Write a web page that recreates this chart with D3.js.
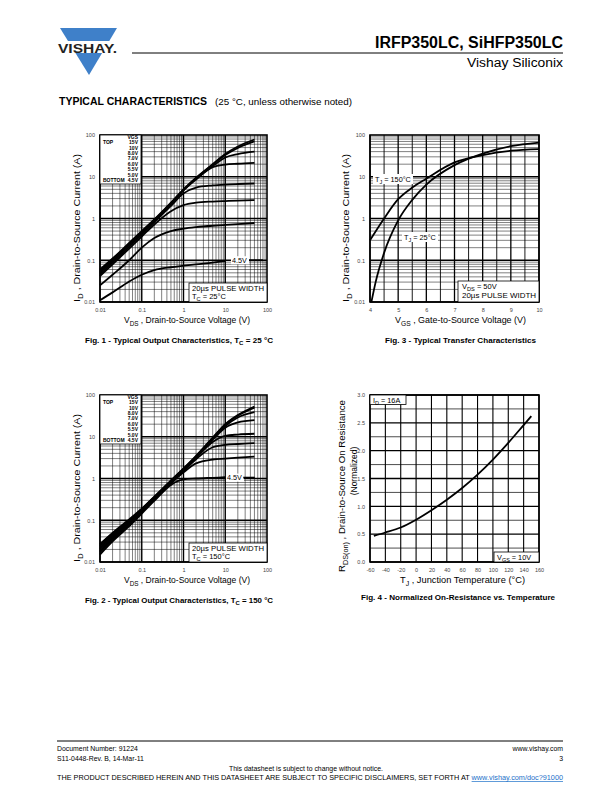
<!DOCTYPE html>
<html><head><meta charset="utf-8">
<script src="https://cdn.jsdelivr.net/npm/d3@7/dist/d3.min.js"></script>
<style>body{margin:0;background:#fff}svg{display:block}text{font-family:"Liberation Sans",Arial,Helvetica,sans-serif}</style>
</head><body><svg id="c" width="612" height="792"></svg>
<script>
// ---------------- DATA ----------------
const vgsLegend = ["15V","10V","8.0V","7.0V","6.0V","5.5V","5.0V","4.5V"];
const vdsPts = [0.01,0.02,0.05,0.1,0.2,0.5,1,2,5,10,20,50];
// Fig 1, TC = 25 C
const id25_15V  = [0.06,0.11,0.26,0.5,0.95,2.4,5.0,9.5,20,35,53,78];
const id25_10V  = [0.057,0.105,0.25,0.48,0.92,2.3,4.9,9.2,19.5,33,49,70];
const id25_8V   = [0.053,0.1,0.24,0.46,0.9,2.25,4.8,9,18,29,35,40];
const id25_7V   = [0.05,0.095,0.23,0.44,0.87,2.2,4.7,8.6,17,19.5,20.5,21.5];
const id25_6V   = [0.046,0.088,0.21,0.41,0.82,2.0,4.0,5.5,6.2,6.5,6.7,6.9];
const id25_55V  = [0.042,0.08,0.19,0.37,0.72,1.5,2.1,2.4,2.55,2.62,2.68,2.75];
const id25_5V   = [0.025,0.045,0.1,0.2,0.34,0.5,0.57,0.62,0.67,0.7,0.73,0.78];
const id25_45V  = [0.011,0.017,0.031,0.045,0.058,0.068,0.074,0.08,0.088,0.096];
// Fig 2, TC = 150 C
const id150_15V = [0.027,0.05,0.105,0.19,0.37,0.9,1.75,3.5,9.5,20,33,53];
const id150_10V = [0.026,0.048,0.1,0.185,0.36,0.88,1.7,3.4,9.2,19.5,32,50];
const id150_8V  = [0.024,0.045,0.095,0.18,0.35,0.86,1.65,3.3,9,18,29,39];
const id150_7V  = [0.022,0.042,0.09,0.17,0.34,0.84,1.6,3.2,8.5,16.5,22,25];
const id150_6V  = [0.02,0.039,0.085,0.165,0.33,0.82,1.55,3.1,7.5,10.5,11.3,11.8];
const id150_55V = [0.018,0.036,0.08,0.16,0.32,0.8,1.5,2.9,5.6,6.4,6.7,7.0];
const id150_5V  = [0.017,0.034,0.077,0.155,0.31,0.76,1.4,2.3,2.85,3.0,3.15,3.35];
const id150_45V = [0.015,0.031,0.072,0.145,0.29,0.7,0.95,1.0,1.04,1.07];
// Fig 3, transfer
const vgsT25  = [4.05,4.2,4.5,5,5.5,6,7,8,9,10];
const idT25   = [0.01,0.03,0.15,0.9,2.8,6.5,19,36,54,66];
const vgsT150 = [4,4.5,5,5.5,6,7,8,9,10];
const idT150  = [0.3,1.0,2.9,5.5,9,22,33,42,46];
// Fig 4, normalized RDS(on)
const tempJ = [-55,-40,-20,0,20,40,60,80,100,120,140,150];
const rdsN  = [0.47,0.53,0.62,0.76,0.93,1.12,1.33,1.57,1.84,2.14,2.46,2.62];
// tick labels
const logTicks = [0.01,0.1,1,10,100];
const logTickLabels = ["0.01","0.1","1","10","100"];
const vgsTicks = [4,5,6,7,8,9,10];
const tempTicks = [-60,-40,-20,0,20,40,60,80,100,120,140,160];
const rTicks = [0,0.5,1,1.5,2,2.5,3];
const rTickLabels = ["0.0","0.5","1.0","1.5","2.0","2.5","3.0"];

// ---------------- DRAWING ----------------
const svg = d3.select("#c");
svg.append("rect").attr("width",612).attr("height",792).attr("fill","#fff");
const FONT = '"Liberation Sans",Arial,sans-serif';

function txt(g, x, y, s, o={}) {
  const t = g.append("text").attr("x",x).attr("y",y).attr("font-size",o.size||7)
    .attr("font-weight",o.bold?"bold":null).attr("text-anchor",o.anchor||"start")
    .attr("fill",o.fill||"#000").text(s);
  if (o.len) t.attr("textLength",o.len).attr("lengthAdjust","spacingAndGlyphs");
  return t;
}
// text with subscript parts: parts = [[str, sub?],...]
function rich(g, x, y, parts, o={}) {
  const t = g.append("text").attr("x",x).attr("y",y).attr("font-size",o.size||7)
    .attr("text-anchor",o.anchor||"start").attr("font-weight",o.bold?"bold":null);
  if (o.rotate) t.attr("transform",`rotate(-90,${x},${y})`);
  if (o.len) t.attr("textLength",o.len).attr("lengthAdjust","spacingAndGlyphs");
  const sz = o.size||7;
  let down = false;
  parts.forEach(([s,sub])=>{
    const ts = t.append("tspan").text(s);
    if (sub && !down){ ts.attr("dy",sz*0.3).attr("font-size",sz*0.75); down=true; }
    else if (!sub && down){ ts.attr("dy",-sz*0.3); down=false; }
  });
  return t;
}

function logGridVals(lo, hi){
  const out=[];
  for(let e=lo;e<hi;e++) for(let m=1;m<=9;m++) out.push([m*Math.pow(10,e), m===1]);
  return out;
}

function frame(x, y, xGrid, yGrid, xTicks, xFmt, yTicks, yFmt){
  const g = svg.append("g");
  const [xl,xr] = x.range(), [yb,yt] = y.range();
  const gg = g.append("g").attr("stroke","#000");
  xGrid.forEach(([v,w])=> gg.append("line").attr("x1",x(v)).attr("x2",x(v)).attr("y1",yt).attr("y2",yb).attr("stroke-width",w));
  yGrid.forEach(([v,w])=> gg.append("line").attr("y1",y(v)).attr("y2",y(v)).attr("x1",xl).attr("x2",xr).attr("stroke-width",w));
  g.append("rect").attr("x",xl).attr("y",yt).attr("width",xr-xl).attr("height",yb-yt)
    .attr("fill","none").attr("stroke","#000").attr("stroke-width",1.6);
  const ax = g.append("g").attr("transform",`translate(0,${yb+6})`)
    .call(d3.axisBottom(x).tickValues(xTicks).tickFormat(xFmt).tickSize(0).tickPadding(0));
  const ay = g.append("g").attr("transform",`translate(${xl-5},0)`)
    .call(d3.axisLeft(y).tickValues(yTicks).tickFormat(yFmt).tickSize(0).tickPadding(0));
  [ax,ay].forEach(a=>{ a.select(".domain").remove(); a.attr("font-family",FONT).attr("font-size",5.5);
    a.selectAll("text").attr("fill","#444"); });
  return g;
}
function curve(g, x, y, xs, ys, w=1.8){
  const pts = ys.map((v,i)=>[xs[i],v]);
  g.append("path").attr("d", d3.line().x(d=>x(d[0])).y(d=>y(d[1])).curve(d3.curveMonotoneX)(pts))
    .attr("fill","none").attr("stroke","#000").attr("stroke-width",w).attr("stroke-linejoin","round");
}
function whiteBox(g,x1,y1,x2,y2,stroke=true){
  g.append("rect").attr("x",x1).attr("y",y1).attr("width",x2-x1).attr("height",y2-y1)
    .attr("fill","#fff").attr("stroke",stroke?"#000":"none").attr("stroke-width",0.8);
}

// -------- Header --------
const hdr = svg.append("g");
hdr.append("path").attr("d","M60,28 L117,28 L89,75 Z").attr("fill","#3f80c9");
hdr.append("rect").attr("x",55).attr("y",41).attr("width",66).attr("height",12).attr("fill","#fff");
txt(hdr, 58, 52.5, "VISHAY.", {size:13, bold:true, len:59, fill:"#222"});
txt(hdr, 563, 48, "IRFP350LC, SiHFP350LC", {size:16, bold:true, anchor:"end", len:188});
hdr.append("line").attr("x1",132).attr("x2",563).attr("y1",53).attr("y2",53).attr("stroke","#000").attr("stroke-width",1);
txt(hdr, 563, 67, "Vishay Siliconix", {size:12.5, anchor:"end", len:96});
txt(hdr, 59, 105, "TYPICAL CHARACTERISTICS", {size:10, bold:true, len:148});
txt(hdr, 215, 105, "(25 °C, unless otherwise noted)", {size:9.3, len:137});

// -------- Output characteristic panels --------
function outputPanel(top, data, cap, tcText, labY, labX, lineX){
  const x = d3.scaleLog().domain([0.01,100]).range([100,267]);
  const y = d3.scaleLog().domain([0.01,100]).range([top+167,top]);
  const gv = logGridVals(-2,2).map(([v,maj])=>[v, maj?1.4:0.5]);
  const fmt = d=>logTickLabels[logTicks.indexOf(d)];
  const g = frame(x,y,gv,gv,logTicks,fmt,logTicks,fmt);
  data.forEach((ys,i)=> curve(g,x,y,vdsPts,ys));
  // legend
  whiteBox(g,100,top,141,top+49);
  txt(g,103,top+9,"TOP",{size:5,bold:true});
  txt(g,103,top+46.5,"BOTTOM",{size:5,bold:true});
  txt(g,138,top+3.8,"VGS",{size:5,bold:true,anchor:"end"});
  vgsLegend.forEach((s,i)=> txt(g,138,top+9.2+i*5.4,s,{size:5,bold:true,anchor:"end"}));
  // 4.5V label
  g.append("rect").attr("x",x(labX)-1).attr("y",y(labY)-4).attr("width",18).attr("height",8).attr("fill","#fff");
  txt(g,x(labX),y(labY)+2.6,"4.5V",{size:7.2});
  g.append("line").attr("x1",x(lineX[0])).attr("x2",x(lineX[1])).attr("y1",y(labY)).attr("y2",y(labY)).attr("stroke","#000").attr("stroke-width",1.8);
  // pulse box
  whiteBox(g,189,top+148,267,top+167);
  txt(g,192,top+155.5,"20µs PULSE WIDTH",{size:7.5,len:72});
  rich(g,192,top+163.5,[["T"],["C",1],[" = "+tcText]],{size:7.5});
  // axis titles
  rich(svg,124,top+188,[["V"],["DS",1],[" , Drain-to-Source Voltage (V)"]],{size:8.5,len:126});
  rich(svg,80,top+167,[["I"],["D",1],[" , Drain-to-Source Current (A)"]],{size:8.5,rotate:true,len:148});
  // caption
  rich(svg,85,top+208,cap,{size:7.8,bold:true,len:188});
}
outputPanel(135,[id25_15V,id25_10V,id25_8V,id25_7V,id25_6V,id25_55V,id25_5V,id25_45V],
  [["Fig. 1 - Typical Output Characteristics, T"],["C",1],[" = 25 °C"]],"25°C",0.1,14.5,[37,80]);
outputPanel(395,[id150_15V,id150_10V,id150_8V,id150_7V,id150_6V,id150_55V,id150_5V,id150_45V],
  [["Fig. 2 - Typical Output Characteristics, T"],["C",1],[" = 150 °C"]],"150°C",1.05,11,[27,51]);

// -------- Fig 3: transfer --------
{
  const x = d3.scaleLinear().domain([4,10]).range([370,539]);
  const y = d3.scaleLog().domain([0.01,100]).range([302,135]);
  const xg = d3.range(4,10.01,0.5).map(v=>[v, Number.isInteger(v)?1.3:0.9]);
  const yg = logGridVals(-2,2).map(([v,maj])=>[v, maj?1.4:0.5]);
  const g = frame(x,y,xg,yg,vgsTicks,d=>String(d),logTicks,d=>logTickLabels[logTicks.indexOf(d)]);
  curve(g,x,y,vgsT150,idT150);
  curve(g,x,y,vgsT25,idT25);
  whiteBox(g,373,174,413,184,false);
  rich(g,375,181.5,[["T"],["J",1],[" = 150°C"]],{size:7.3});
  whiteBox(g,402,232,438,242,false);
  rich(g,404,239.5,[["T"],["J",1],[" = 25°C"]],{size:7.3});
  whiteBox(g,458,281,539,302);
  rich(g,462,289,[["V"],["DS",1],[" = 50V"]],{size:7.5});
  txt(g,462,298,"20µs PULSE WIDTH",{size:7.5,len:74});
  rich(svg,395,323,[["V"],["GS",1],[" , Gate-to-Source Voltage (V)"]],{size:8.5,len:131});
  rich(svg,349,302,[["I"],["D",1],[" , Drain-to-Source Current (A)"]],{size:8.5,rotate:true,len:148});
  txt(svg,385,343,"Fig. 3 - Typical Transfer Characteristics",{size:7.8,bold:true,len:151});
}

// -------- Fig 4: RDS(on) vs temperature --------
{
  const x = d3.scaleLinear().domain([-60,160]).range([370,539]);
  const y = d3.scaleLinear().domain([0,3]).range([562,395]);
  const xg = d3.range(-60,161,20).map(v=>[v,1.1]);
  const yg = d3.range(0,3.01,0.25).map(v=>[v, (v*2)%1===0?1.4:0.7]);
  const g = frame(x,y,xg,yg,tempTicks,d=>String(d),rTicks,d=>rTickLabels[rTicks.indexOf(d)]);
  curve(g,x,y,tempJ,rdsN);
  whiteBox(g,370,395,406,404.5);
  rich(g,373,402.5,[["I"],["D",1],[" = 16A"]],{size:7.3});
  whiteBox(g,494,552,539,562);
  rich(g,497,559.5,[["V"],["GS",1],[" = 10V"]],{size:7.3});
  rich(svg,400,583,[["T"],["J",1],[" , Junction Temperature (°C)"]],{size:8.5,len:125});
  rich(svg,345,572,[["R"],["DS(on)",1],[" , Drain-to-Source On Resistance"]],{size:8.5,rotate:true,len:172});
  txt(svg,357,471,"(Normalized)",{size:8.5,anchor:"middle"}).attr("transform","rotate(-90,357,471)");
  txt(svg,361,600,"Fig. 4 - Normalized On-Resistance vs. Temperature",{size:7.8,bold:true,len:194});
}

// -------- Footer --------
const ft = svg.append("g");
ft.append("line").attr("x1",57).attr("x2",563).attr("y1",741).attr("y2",741).attr("stroke","#000").attr("stroke-width",1);
txt(ft,57,751,"Document Number: 91224",{size:6.9});
txt(ft,57,761,"S11-0448-Rev. B, 14-Mar-11",{size:6.9});
txt(ft,563,751,"www.vishay.com",{size:6.9,anchor:"end"});
txt(ft,563,761,"3",{size:6.9,anchor:"end"});
txt(ft,306,771,"This datasheet is subject to change without notice.",{size:6.9,anchor:"middle"});
const disc = ft.append("text").attr("x",57).attr("y",780).attr("font-size",6.9).attr("textLength",506).attr("lengthAdjust","spacingAndGlyphs");
disc.append("tspan").text("THE PRODUCT DESCRIBED HEREIN AND THIS DATASHEET ARE SUBJECT TO SPECIFIC DISCLAIMERS, SET FORTH AT ");
disc.append("tspan").attr("fill","#1a6fc9").attr("text-decoration","underline").text("www.vishay.com/doc?91000");
</script></body></html>
